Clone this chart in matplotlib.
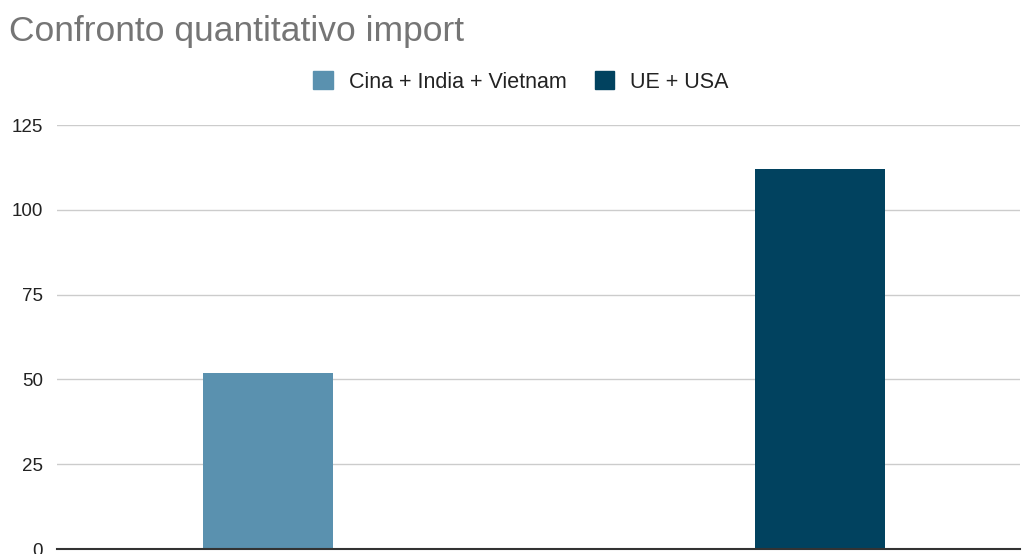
import matplotlib.pyplot as plt
from matplotlib.patches import Patch

plt.rcParams['font.family'] = ['Liberation Sans', 'DejaVu Sans']

series = ["Cina + India + Vietnam", "UE + USA"]
values = [52, 112]
colors = ["#5a91af", "#01425f"]
yticks = [0, 25, 50, 75, 100, 125]

fig = plt.figure(figsize=(10.23, 5.54), dpi=100)
ax = fig.add_axes([57 / 1023, 5 / 554, 963 / 1023, 424 / 554])

positions = [0, 1]
for pos, val, col, name in zip(positions, values, colors, series):
    ax.bar(pos, val, width=0.236, color=col, label=name, zorder=3)

ax.set_xlim(-0.382, 1.362)
ax.set_ylim(0, 125)
ax.set_yticks(yticks)
ax.set_yticklabels([str(t) for t in yticks], fontsize=13.5, color="#222222")
ax.set_xticks([])
ax.tick_params(axis="y", length=0, pad=10)
ax.grid(axis="y", color="#cccccc", linewidth=1, zorder=0)
for side in ("top", "right", "left"):
    ax.spines[side].set_visible(False)
ax.spines["bottom"].set_color("#333333")
ax.spines["bottom"].set_linewidth(1.5)
ax.spines["bottom"].set_zorder(4)

fig.text(9 / 1023, 1 - 31 / 554, "Confronto quantitativo import",
         fontsize=25.5, color="#757575", va="center", ha="left")

handles = [Patch(facecolor=c, edgecolor=c) for c in colors]
fig.legend(handles, series, loc="center", bbox_to_anchor=(521 / 1023, 1 - 82 / 554),
           ncol=2, frameon=False, fontsize=15.5, handlelength=0.9, handleheight=0.9,
           handletextpad=0.75, columnspacing=1.3, labelcolor="#222222")

fig.savefig("out.png", dpi=100)
